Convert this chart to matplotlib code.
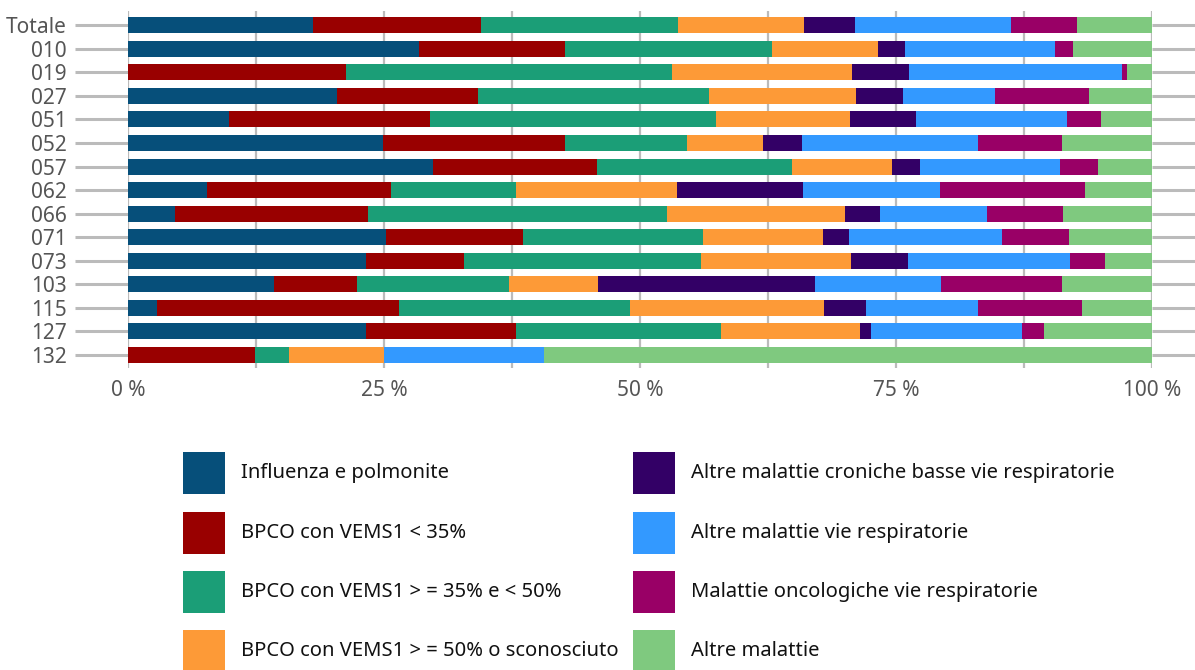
import numpy as np
import matplotlib
matplotlib.use("Agg")
import matplotlib.pyplot as plt
from matplotlib.patches import Rectangle

# ----------------------------------------------------
# Data (percent share of each cause, per district)
# ----------------------------------------------------

categories = ["Totale", "010", "019", "027", "051", "052", "057", "062",
              "066", "071", "073", "103", "115", "127", "132"]

influenza = [18.1, 28.4, 0.0, 20.4, 9.9, 24.9, 29.8, 7.7, 4.6, 25.2, 23.2, 14.3, 2.8, 23.2, 0.0]
bpco_35 = [16.4, 14.3, 21.3, 13.8, 19.6, 17.8, 16.0, 18.0, 18.8, 13.4, 9.6, 8.1, 23.7, 14.7, 12.4]
bpco_35_50 = [19.2, 20.2, 31.8, 22.5, 27.9, 11.9, 19.0, 12.2, 29.2, 17.6, 23.2, 14.8, 22.5, 20.0, 3.3]
bpco_50 = [12.3, 10.3, 17.6, 14.4, 13.1, 7.4, 9.8, 15.7, 17.4, 11.7, 14.6, 8.7, 19.0, 13.6, 9.3]
altre_croniche = [5.0, 2.7, 5.6, 4.6, 6.5, 3.8, 2.7, 12.3, 3.4, 2.5, 5.6, 21.2, 4.1, 1.1, 0.0]
altre_vie = [15.2, 14.6, 20.8, 9.0, 14.7, 17.2, 13.7, 13.4, 10.5, 15.0, 15.8, 12.3, 10.9, 14.7, 15.6]
oncologiche = [6.5, 1.8, 0.5, 9.1, 3.3, 8.2, 3.7, 14.2, 7.4, 6.5, 3.4, 11.8, 10.2, 2.2, 0.0]
altre_malattie = [7.3, 7.7, 2.4, 6.2, 5.0, 8.8, 5.3, 6.5, 8.7, 8.1, 4.6, 8.8, 6.8, 10.5, 59.4]

labels = ["Influenza e polmonite",
          "BPCO con VEMS1 < 35%",
          "BPCO con VEMS1 > = 35% e < 50%",
          "BPCO con VEMS1 > = 50% o sconosciuto",
          "Altre malattie croniche basse vie respiratorie",
          "Altre malattie vie respiratorie",
          "Malattie oncologiche vie respiratorie",
          "Altre malattie"]

colors = ["#064f7a", "#990000", "#1b9e77", "#fd9a37",
          "#330066", "#3399ff", "#990066", "#7fc97f"]

series = [influenza, bpco_35, bpco_35_50, bpco_50,
          altre_croniche, altre_vie, oncologiche, altre_malattie]

# normalise each row to 100 %
data = np.array(series, dtype=float)
data = data / data.sum(axis=0) * 100

# ----------------------------------------------------
# Figure
# ----------------------------------------------------

plt.rcParams["font.family"] = ["Noto Sans", "DejaVu Sans"]

W, H = 1195, 670
fig = plt.figure(figsize=(W / 100, H / 100), dpi=100)

# main axes: x 128..1152 px, y 11..368 px
ax = fig.add_axes([128 / W, 1 - 368 / H, 1024 / W, 357 / H])

y = np.arange(len(categories))
left = np.zeros(len(categories))
for vals, col in zip(data, colors):
    ax.barh(y, vals, left=left, height=0.68, color=col, zorder=3, linewidth=0)
    left += vals

ax.set_xlim(0, 100)
ax.set_ylim(14.55, -0.6)

# vertical grid every 12.5 %
ax.set_xticks(np.arange(0, 100.1, 12.5), minor=True)
ax.grid(True, axis="x", which="minor", color="#bbbbbb", linewidth=1.6, zorder=1)
ax.set_xticks([0, 25, 50, 75, 100])
ax.set_xticklabels(["0 %", "25 %", "50 %", "75 %", "100 %"])
ax.grid(True, axis="x", which="major", color="#bbbbbb", linewidth=1.6, zorder=1)

ax.set_yticks(y)
ax.set_yticklabels(categories)

ax.tick_params(axis="y", which="major", left=True, right=True,
               length=38, width=2.2, color="#bbbbbb", pad=6,
               labelsize=15, labelcolor="#555555")
ax.tick_params(axis="x", which="both", length=0, pad=9,
               labelsize=15, labelcolor="#555555")

for s in ax.spines.values():
    s.set_visible(False)

# ----------------------------------------------------
# Legend (drawn in pixel space)
# ----------------------------------------------------

lax = fig.add_axes([0, 0, 1, 1])
lax.set_xlim(0, W)
lax.set_ylim(H, 0)
lax.axis("off")

col_x = [183, 633]
row_y = [473, 533, 592, 651]
for i, (lab, col) in enumerate(zip(labels, colors)):
    cx = col_x[i // 4]
    cy = row_y[i % 4]
    lax.add_patch(Rectangle((cx, cy - 21), 42, 42, color=col, linewidth=0))
    lax.text(cx + 58, cy, lab, fontsize=14.5, color="#111111",
             va="center", ha="left")

fig.savefig("out.png", dpi=100)
